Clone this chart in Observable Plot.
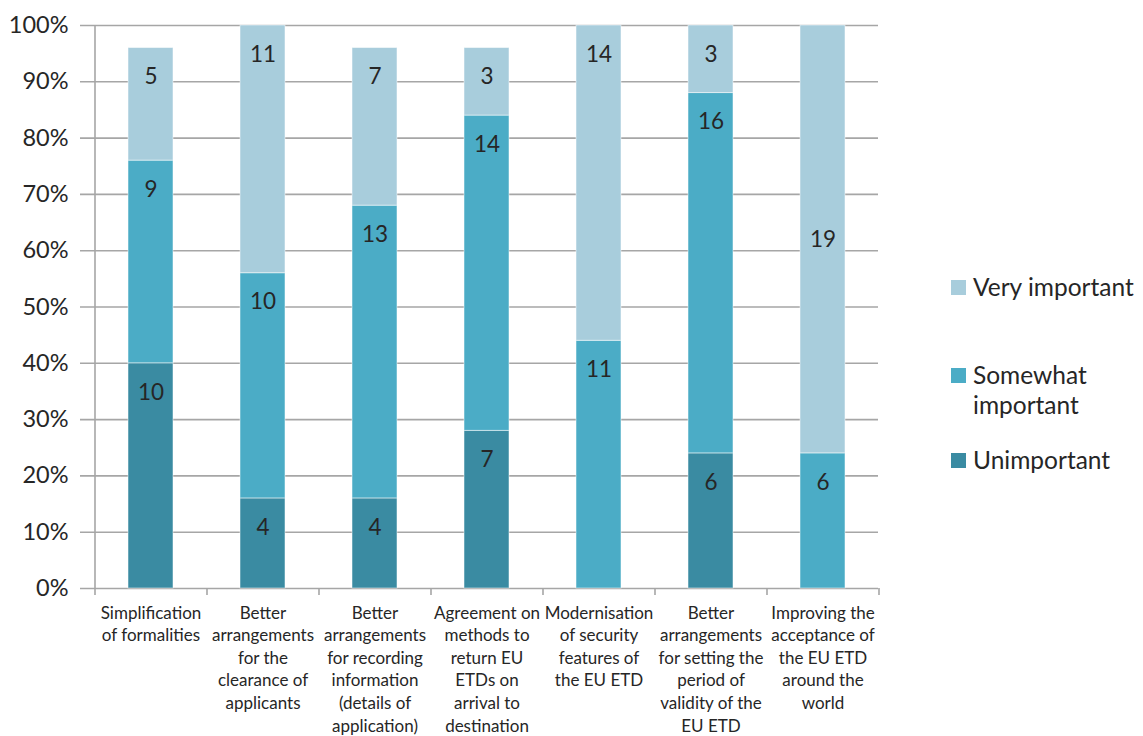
<!DOCTYPE html>
<html><head><meta charset="utf-8">
<script src="https://cdn.jsdelivr.net/npm/d3@7"></script>
<script src="https://cdn.jsdelivr.net/npm/@observablehq/plot@0.6"></script>
<style>
body{margin:0;background:#fff;font-family:Lato,sans-serif;color:#262626}
#wrap{position:relative;width:1143px;height:736px;overflow:hidden}
#chart{position:absolute;left:0;top:0}
.lg{position:absolute;left:951px;font-size:24.5px;line-height:30px;display:flex;align-items:flex-start;white-space:nowrap}
.sw{width:15px;height:15px;margin-top:8px;margin-right:7px;flex:none}
</style></head><body>
<div id="wrap"><div id="chart"></div><div id="legend"></div></div>
<script>
const categories = [
  "Simplification of formalities",
  "Better arrangements for the clearance of applicants",
  "Better arrangements for recording information (details of application)",
  "Agreement on methods to return EU ETDs on arrival to destination",
  "Modernisation of security features of the EU ETD",
  "Better arrangements for setting the period of validity of the EU ETD",
  "Improving the acceptance of the EU ETD around the world"
];
const tickLabels = [
  "Simplification\nof formalities",
  "Better\narrangements\nfor the\nclearance of\napplicants",
  "Better\narrangements\nfor recording\ninformation\n(details of\napplication)",
  "Agreement on\nmethods to\nreturn EU\nETDs on\narrival to\ndestination",
  "Modernisation\nof security\nfeatures of\nthe EU ETD",
  "Better\narrangements\nfor setting the\nperiod of\nvalidity of the\nEU ETD",
  "Improving the\nacceptance of\nthe EU ETD\naround the\nworld"
];
const levels = ["Unimportant", "Somewhat important", "Very important"];
const unimportant = [10, 4, 4, 7, 0, 6, 0];
const somewhat    = [9, 10, 13, 14, 11, 16, 6];
const very        = [5, 11, 7, 3, 14, 3, 19];
const respondents = 25;
const colors = ["#3a8ba2", "#4bacc6", "#a8cddc"];
const yTicks = [0, 0.1, 0.2, 0.3, 0.4, 0.5, 0.6, 0.7, 0.8, 0.9, 1];
const centeredLabels = [["Improving the acceptance of the EU ETD around the world", "Very important"]];

const series = [unimportant, somewhat, very];
const rows = [];
categories.forEach((c, i) => {
  levels.forEach((l, j) => {
    rows.push({category: c, level: l, count: series[j][i], pct: series[j][i] / respondents});
  });
});
const isCentered = d => centeredLabels.some(([c, l]) => c === d.category && l === d.level);

const W = 1143, H = 736, mL = 94, mR = 265, mT = 25, mB = 148;
const step = (W - mL - mR) / categories.length;

const plot = Plot.plot({
  width: W, height: H,
  marginLeft: mL, marginRight: mR, marginTop: mT, marginBottom: mB,
  style: {fontFamily: "Lato, sans-serif", fontSize: "21px", color: "#262626", background: "#fff"},
  x: {domain: categories, paddingInner: 0.6, paddingOuter: 0.3, label: null},
  y: {domain: [0, 1], label: null},
  color: {domain: levels, range: colors},
  marks: [
    Plot.ruleY(yTicks, {y: d => d, stroke: "#a6a6a6", strokeWidth: 1.6, insetLeft: -14}),
    Plot.barY(rows, Plot.stackY({x: "category", y: "pct", fill: "level", order: levels, stroke: "#fff", strokeOpacity: 0.5, strokeWidth: 1})),
    Plot.text(rows, Plot.stackY2({x: "category", y: "pct", z: "level", order: levels,
      text: d => (d.count > 0 && !isCentered(d)) ? String(d.count) : "", dy: 29, fontSize: 22.5, fill: "#262626"})),
    Plot.text(rows, Plot.stackY({x: "category", y: "pct", z: "level", order: levels,
      text: d => isCentered(d) ? String(d.count) : "", fontSize: 22.5, fill: "#262626"})),
    Plot.ruleX([categories[0]], {x: d => d, dx: -step / 2, stroke: "#a6a6a6", strokeWidth: 1.6, insetBottom: -7}),
    Plot.ruleX(categories, {x: d => d, y1: 0, y2: 0, dx: step / 2, stroke: "#a6a6a6", strokeWidth: 1.6, insetBottom: -7}),
    Plot.axisY(yTicks, {tickFormat: d => Math.round(d * 100) + "%", tickSize: 0, tickPadding: 26, fontSize: 23.5, fill: "#262626"}),
    Plot.axisX({tickFormat: d => tickLabels[categories.indexOf(d)], tickSize: 0, tickPadding: 14, fontSize: 17, lineHeight: 1.33, fill: "#262626"})
  ]
});
document.getElementById("chart").appendChild(plot);

const legendItems = [
  {label: "Very important", lines: ["Very important"], top: 272, color: colors[2]},
  {label: "Somewhat important", lines: ["Somewhat", "important"], top: 360, color: colors[1]},
  {label: "Unimportant", lines: ["Unimportant"], top: 445, color: colors[0]}
];
const lg = document.getElementById("legend");
legendItems.forEach(it => {
  const d = document.createElement("div");
  d.className = "lg";
  d.style.top = it.top + "px";
  const s = document.createElement("div");
  s.className = "sw"; s.style.background = it.color;
  const t = document.createElement("div");
  t.innerHTML = it.lines.join("<br>");
  d.appendChild(s); d.appendChild(t);
  lg.appendChild(d);
});
</script>
</body></html>
